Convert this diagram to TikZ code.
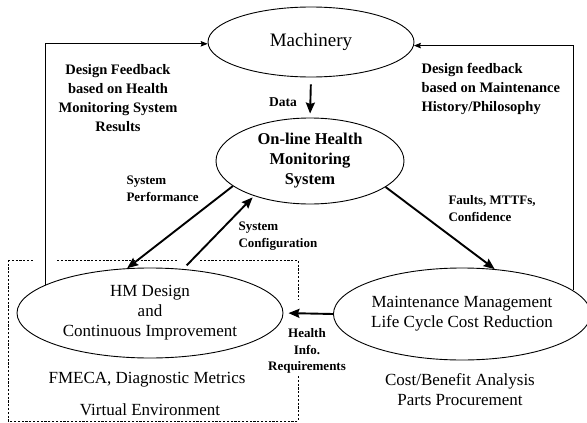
\documentclass[tikz,border=0pt]{standalone}
\usepackage{fontspec}
\setmainfont{Liberation Serif}
\usetikzlibrary{shapes.geometric,arrows.meta}

\begin{document}
\begin{tikzpicture}[x=1pt,y=-1pt,
  oval/.style={draw,ellipse,inner sep=0pt,line width=0.9pt},
  flow/.style={line width=1.9pt,-{Stealth[length=11pt,width=9pt,inset=1.5pt]}},
  fback/.style={line width=0.9pt,-{Stealth[length=7pt,width=5.5pt,inset=1pt]}},
  dotbox/.style={line width=0.8pt,dash pattern=on 2.2pt off 1.6pt},
  bigtxt/.style={font=\fontsize{17}{20}\selectfont,align=center},
  sidetxt/.style={font=\fontsize{14.5}{19}\selectfont\bfseries},
  smalltxt/.style={font=\fontsize{13}{17}\selectfont\bfseries,align=left}]

\useasboundingbox (0,0) rectangle (587,423);

% main blocks
\node[oval,minimum width=206pt,minimum height=70pt] (mach) at (311,42)
  {\fontsize{19}{22}\selectfont Machinery};
\node[oval,minimum width=188pt,minimum height=86pt,bigtxt,
  font=\fontsize{16.5}{20}\selectfont\bfseries] (onl) at (310,161)
  {On-line Health\\Monitoring\\System};
\node[oval,minimum width=266pt,minimum height=90pt,bigtxt] (hm) at (150,313)
  {HM Design\\and\\Continuous Improvement};
\node[oval,minimum width=254pt,minimum height=92pt,bigtxt] (maint) at (462,314)
  {Maintenance Management\\Life Cycle Cost Reduction};

% dotted frame round the design block
\coordinate (f1) at (8,260);
\coordinate (f2) at (298,260);
\coordinate (f3) at (298,421);
\coordinate (f4) at (8,421);
\draw[dotbox] (8,260) -- (33,260);
\draw[dotbox] (57,260) -- (177,260);
\draw[dotbox] (200,260) -- (f2) -- (298,300);
\draw[dotbox] (298,376) -- (f3) -- (f4) -- (f1);

% information flow
\draw[flow,shorten <=7pt,shorten >=4pt] (mach.south) -- (onl.north);
\draw[flow] (onl.198) -- (hm.117);
\draw[flow,shorten <=5pt,shorten >=2pt] (hm.53) -- (onl.212);
\draw[flow] (onl.341) -- (maint.54);
\draw[flow,shorten >=5pt] (maint.west) -- (hm.east);

% feedback loops to the machinery
\draw[fback] (hm.165.3) |- (mach.181.7);
\draw[fback] (maint.12.8) |- (mach.358.3);

% labels
\node[sidetxt,align=center] (lfb) at (118,98)
  {Design Feedback\\based on Health\\Monitoring System\\Results};
\node[sidetxt,align=left,anchor=west] (rfb) at (418,89)
  {Design feedback\\based on Maintenance\\History/Philosophy};
\node[font=\fontsize{13.5}{16}\selectfont\bfseries] (data) at (283,102) {Data};
\node[smalltxt,anchor=west] (sp) at (123,189) {System\\Performance};
\node[smalltxt,anchor=west] (sc) at (235,236) {System\\Configuration};
\node[smalltxt,anchor=west] (fm) at (445,209) {Faults, MTTFs,\\Confidence};
\node[font=\fontsize{13}{16.5}\selectfont\bfseries,align=center] (hir) at (307,351)
  {Health\\Info.\\Requirements};
\node[font=\fontsize{17}{20}\selectfont] (fmeca) at (147,380) {FMECA, Diagnostic Metrics};
\node[font=\fontsize{17}{20}\selectfont] (venv) at (150,410) {Virtual Environment};
\node[font=\fontsize{17}{20}\selectfont,align=center] (cba) at (460,390)
  {Cost/Benefit Analysis\\Parts Procurement};
\end{tikzpicture}
\end{document}
